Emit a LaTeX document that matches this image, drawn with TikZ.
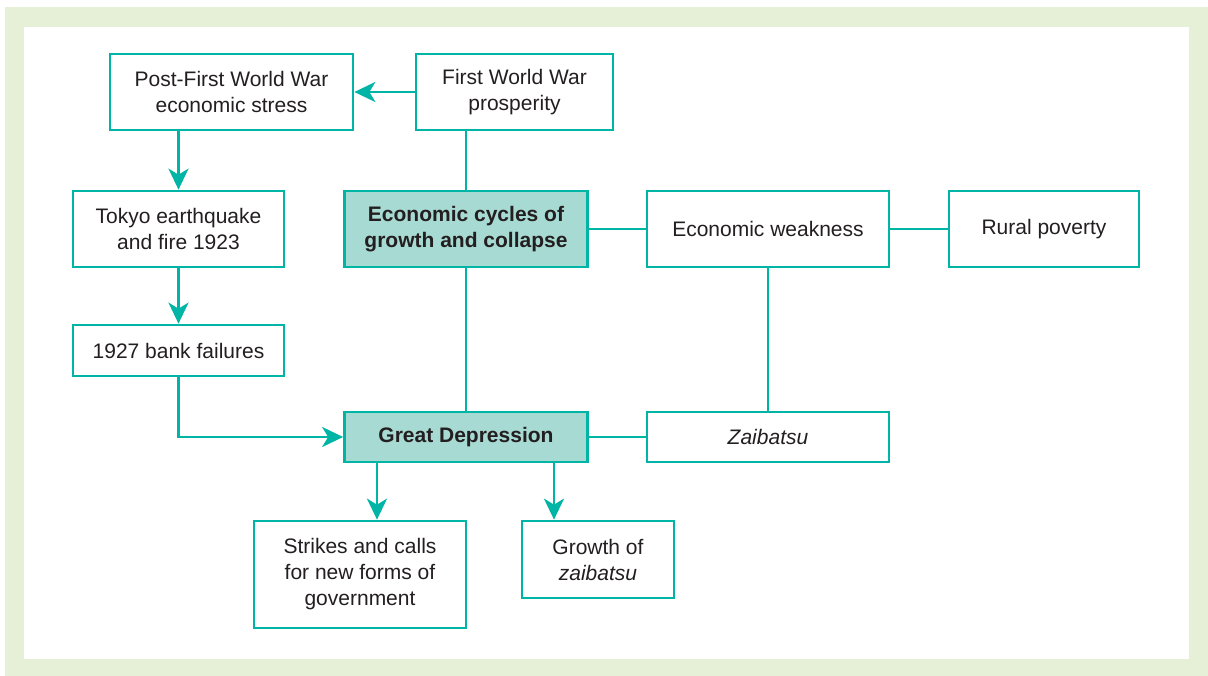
\documentclass[tikz,border=0pt]{standalone}
\usepackage{fontspec}
\setmainfont{Liberation Sans}
\usetikzlibrary{arrows.meta}
\definecolor{tealc}{HTML}{00B5A5}
\definecolor{fillc}{HTML}{A7DAD2}
\definecolor{frameg}{HTML}{E5F0D6}
\definecolor{txt}{HTML}{231F20}
\tikzset{
  box/.style={draw=tealc, line width=2.7pt, fill=white, inner sep=0pt, align=center,
    text=txt, font=\fontsize{21}{26}\selectfont},
  keybox/.style={box, fill=fillc, font=\fontsize{21}{26}\selectfont\bfseries},
  conn/.style={draw=tealc, line width=2.7pt},
  arr/.style={conn, -{Stealth[length=21pt, width=20pt, inset=6pt]}}
}
\begin{document}
\begin{tikzpicture}[x=1pt, y=-1pt]
\useasboundingbox (0,0) rectangle (1208,676);
\fill[frameg] (5,7) rectangle (1208,676);
\fill[white] (24,27) rectangle (1189,659);

\node[box, minimum width=243pt, minimum height=76pt] (post) at (231.5,92) {Post-First World War\\economic stress};
\node[box, minimum width=197pt, minimum height=76pt] (fww) at (514.5,92) {First World War\\prosperity};
\node[box, minimum width=211pt, minimum height=76pt] (tokyo) at (178.5,229) {Tokyo earthquake\\and fire 1923};
\node[keybox, minimum width=243pt, minimum height=76pt] (cycles) at (466,229) {Economic cycles of\\growth and collapse};
\node[box, minimum width=242pt, minimum height=76pt] (weak) at (768,229) {Economic weakness};
\node[box, minimum width=190pt, minimum height=76pt] (rural) at (1044,229) {Rural poverty};
\node[box, minimum width=211pt, minimum height=51pt] (bank) at (178.5,350.5) {1927 bank failures};
\node[keybox, minimum width=243pt, minimum height=50pt] (gd) at (466,437) {Great Depression};
\node[box, minimum width=242pt, minimum height=50pt] (zai) at (768,437) {\itshape Zaibatsu};
\node[box, minimum width=212pt, minimum height=107pt] (strikes) at (360,574.5) {Strikes and calls\\for new forms of\\government};
\node[box, minimum width=152pt, minimum height=77pt] (growth) at (598,559.5) {Growth of\\\textit{zaibatsu}};

\coordinate (sa) at ([xshift=-89pt]gd.south);
\coordinate (sb) at ([xshift=88pt]gd.south);

\draw[arr] (fww.west) -- (post.east);
\draw[arr] (tokyo.north |- post.south) -- (tokyo.north);
\draw[arr] (tokyo.south) -- (bank.north);
\draw[arr] (bank.south) |- (gd.west);
\draw[conn] (cycles.north |- fww.south) -- (cycles.north);
\draw[conn] (cycles.south) -- (gd.north);
\draw[conn] (cycles.east) -- (weak.west);
\draw[conn] (weak.east) -- (rural.west);
\draw[conn] (weak.south) -- (zai.north);
\draw[conn] (gd.east) -- (zai.west);
\draw[arr] (sa) -- (sa |- strikes.north);
\draw[arr] (sb) -- (sb |- growth.north);
\end{tikzpicture}
\end{document}
